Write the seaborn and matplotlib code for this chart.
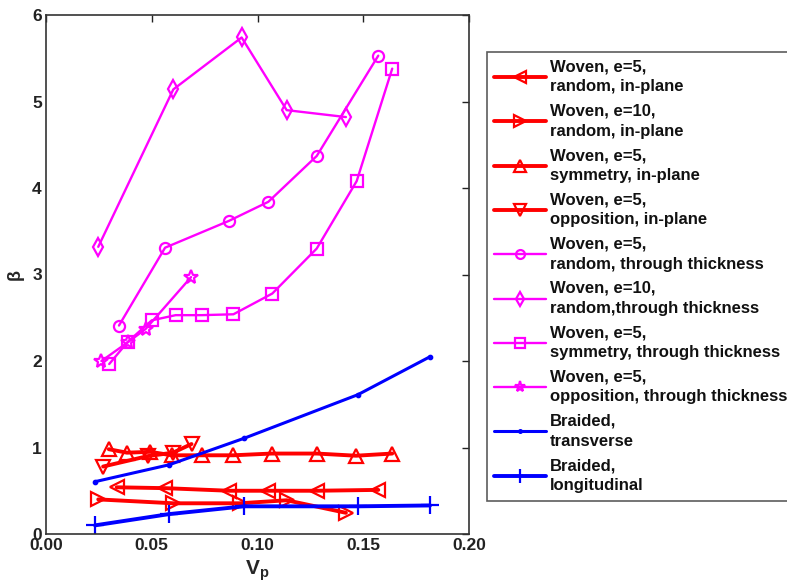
import matplotlib
matplotlib.use("Agg")
import matplotlib.pyplot as plt
import seaborn as sns
import pandas as pd

sns.set_theme(style="white")
plt.rcParams["font.family"] = ["Liberation Sans", "DejaVu Sans"]
plt.rcParams["font.weight"] = "bold"
plt.rcParams["mathtext.fontset"] = "custom"
plt.rcParams["mathtext.rm"] = "Liberation Sans:bold"
plt.rcParams["mathtext.bf"] = "Liberation Sans:bold"
plt.rcParams["mathtext.it"] = "Liberation Sans:bold"

# ---- data: particle volume fraction Vp vs beta ----
labels = [
    "Woven, e=5,\nrandom, in-plane",
    "Woven, e=10,\nrandom, in-plane",
    "Woven, e=5,\nsymmetry, in-plane",
    "Woven, e=5,\nopposition, in-plane",
    "Woven, e=5,\nrandom, through thickness",
    "Woven, e=10,\nrandom,through thickness",
    "Woven, e=5,\nsymmetry, through thickness",
    "Woven, e=5,\nopposition, through thickness",
    "Braided,\ntransverse",
    "Braided,\nlongitudinal",
]

e5_rand_ip_x = [0.0334, 0.0563, 0.0865, 0.1051, 0.1280, 0.1571]
e5_rand_ip_y = [0.54, 0.53, 0.50, 0.50, 0.50, 0.51]

e10_rand_ip_x = [0.0247, 0.0602, 0.0917, 0.1138, 0.1418]
e10_rand_ip_y = [0.40, 0.355, 0.355, 0.39, 0.245]

e5_sym_ip_x = [0.0297, 0.0383, 0.0493, 0.0594, 0.0736, 0.0886, 0.1067, 0.1280, 0.1466, 0.1637]
e5_sym_ip_y = [0.98, 0.94, 0.95, 0.91, 0.91, 0.91, 0.93, 0.93, 0.905, 0.93]

e5_opp_ip_x = [0.0270, 0.0480, 0.0600, 0.0688]
e5_opp_ip_y = [0.78, 0.90, 0.94, 1.04]

e5_rand_tt_x = [0.0345, 0.0563, 0.0865, 0.1051, 0.1280, 0.1571]
e5_rand_tt_y = [2.41, 3.31, 3.62, 3.84, 4.37, 5.53]

e10_rand_tt_x = [0.0247, 0.0602, 0.0925, 0.1138, 0.1418]
e10_rand_tt_y = [3.32, 5.14, 5.74, 4.90, 4.82]

e5_sym_tt_x = [0.0299, 0.0386, 0.0500, 0.0613, 0.0736, 0.0886, 0.1070, 0.1280, 0.1469, 0.1637]
e5_sym_tt_y = [1.965, 2.22, 2.47, 2.53, 2.53, 2.54, 2.78, 3.30, 4.08, 5.38]

e5_opp_tt_x = [0.0262, 0.0389, 0.0471, 0.0686]
e5_opp_tt_y = [2.00, 2.22, 2.37, 2.97]

braid_trans_x = [0.0232, 0.0582, 0.0936, 0.1474, 0.1816]
braid_trans_y = [0.605, 0.80, 1.106, 1.61, 2.05]

braid_long_x = [0.0232, 0.0582, 0.0936, 0.1474, 0.1816]
braid_long_y = [0.10, 0.23, 0.32, 0.32, 0.33]

series = [
    (e5_rand_ip_x, e5_rand_ip_y, "#ff0000", "<", 2.8, 10),
    (e10_rand_ip_x, e10_rand_ip_y, "#ff0000", ">", 2.8, 10),
    (e5_sym_ip_x, e5_sym_ip_y, "#ff0000", "^", 2.8, 10),
    (e5_opp_ip_x, e5_opp_ip_y, "#ff0000", "v", 2.8, 10),
    (e5_rand_tt_x, e5_rand_tt_y, "#ff00ff", "o", 1.7, 8),
    (e10_rand_tt_x, e10_rand_tt_y, "#ff00ff", "d", 1.7, 9),
    (e5_sym_tt_x, e5_sym_tt_y, "#ff00ff", "s", 1.7, 9),
    (e5_opp_tt_x, e5_opp_tt_y, "#ff00ff", "*", 1.7, 10),
    (braid_trans_x, braid_trans_y, "#0000ff", ".", 2.2, 5),
    (braid_long_x, braid_long_y, "#0000ff", "+", 2.8, 13),
]

fig = plt.figure(figsize=(7.87, 5.87), dpi=100)
ax = fig.add_axes([46 / 787, 1 - 534 / 587, (469 - 46) / 787, (534 - 15) / 587])

for (xs, ys, col, mk, lw, ms), lab in zip(series, labels):
    df = pd.DataFrame({"Vp": xs, "beta": ys})
    sns.lineplot(data=df, x="Vp", y="beta", sort=False, estimator=None, ax=ax,
                 color=col, marker=mk, markersize=ms, linewidth=lw,
                 markerfacecolor="none", markeredgecolor=col,
                 markeredgewidth=1.6, label=lab)

ax.set_xlim(0, 0.2)
ax.set_ylim(0, 6)
ax.set_xticks([0.0, 0.05, 0.10, 0.15, 0.20])
ax.set_xticklabels(["0.00", "0.05", "0.10", "0.15", "0.20"])
ax.set_yticks(range(0, 7))
ax.tick_params(direction="in", length=5, width=1, top=True, right=True,
               labelsize=12.5, colors="#222222", pad=3)
for lbl in ax.get_xticklabels() + ax.get_yticklabels():
    lbl.set_fontweight("bold")
for sp in ax.spines.values():
    sp.set_visible(True)
    sp.set_color("#333333")
    sp.set_linewidth(1.2)

ax.set_xlabel(r"$\mathbf{V_p}$", fontsize=15, labelpad=4)
ax.set_ylabel("β", fontsize=13, fontweight="bold", labelpad=6)

leg = ax.legend(loc="upper left", bbox_to_anchor=(487 / 787, 1 - 52 / 587),
                bbox_transform=fig.transFigure, frameon=True, fancybox=False,
                prop={"size": 12, "weight": "bold"}, handlelength=3.1,
                handletextpad=0.2, labelspacing=0.57, borderpad=0.45,
                borderaxespad=0, markerscale=0.8)
leg.get_frame().set_edgecolor("#333333")
leg.get_frame().set_linewidth(1.2)
for t in leg.get_texts():
    t.set_color("#111111")
    t.set_linespacing(1.4)

fig.savefig("out.png", dpi=100)
